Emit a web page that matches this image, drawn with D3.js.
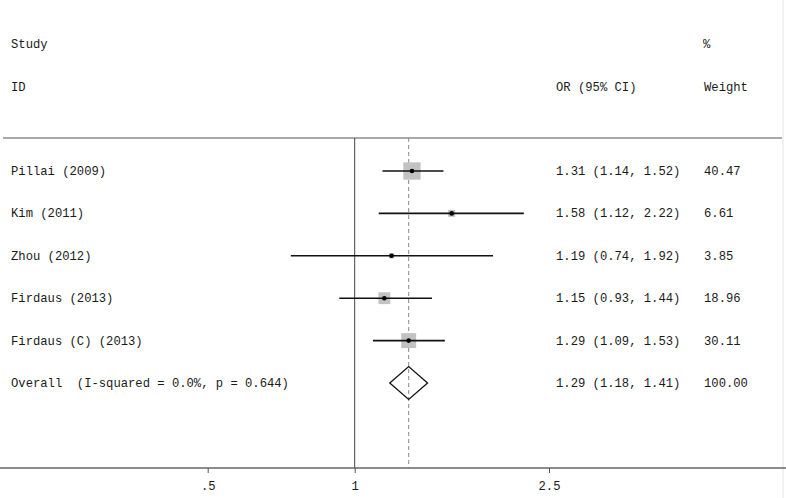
<!DOCTYPE html>
<html>
<head>
<meta charset="utf-8">
<script src="https://cdn.jsdelivr.net/npm/d3@7"></script>
<style>
	body { margin: 0; background: #fff; }
	text { font-family: 'Liberation Mono', 'DejaVu Sans Mono', monospace; font-size: 12.2px; fill: #1a1a1a; }
</style>
</head>
<body>
<svg id="chart"></svg>
<script>
// study rows
const studies = ['Pillai (2009)', 'Kim (2011)', 'Zhou (2012)', 'Firdaus (2013)', 'Firdaus (C) (2013)'];
const or_vals = [1.31, 1.58, 1.19, 1.15, 1.29];
const ci_low = [1.14, 1.12, 0.74, 0.93, 1.09];
const ci_high = [1.52, 2.22, 1.92, 1.44, 1.53];
const weights = [40.47, 6.61, 3.85, 18.96, 30.11];

// pooled estimate
const overall_label = 'Overall  (I-squared = 0.0%, p = 0.644)';
const overall = [1.29, 1.18, 1.41, 100.00];

const tick_vals = [0.5, 1, 2.5];
const tick_labels = ['.5', '1', '2.5'];

let outer_width = 786
let outer_height = 498

const fmt = (v)=> v.toFixed(2)

const svg = d3.select('#chart')
	.attr('width', outer_width)
	.attr('height', outer_height)

// log scale for odds ratio
const xScale = d3.scaleLog()
	.domain([0.5, 2.5])
	.range([207.7, 549])

const yScale = d3.scaleLinear()
	.domain([0, 5])
	.range([171, 383])

const sizeScale = d3.scaleSqrt()
	.domain([0, 40.47])
	.range([0, 17.3])

const top_line = 138
const axis_y = 468

// headers
svg.append('text').attr('x', 11).attr('y', 48).text('Study')
svg.append('text').attr('x', 11).attr('y', 91).text('ID')
svg.append('text').attr('x', 703).attr('y', 48).text('%')
svg.append('text').attr('x', 556).attr('y', 91).text('OR (95% CI)')
svg.append('text').attr('x', 704).attr('y', 91).text('Weight')

// horizontal rule under header
svg.append('line')
	.attr('x1', 3).attr('x2', 782)
	.attr('y1', top_line).attr('y2', top_line)
	.attr('stroke', '#555').attr('stroke-width', 1.2)

// faint right border
svg.append('line')
	.attr('x1', 783).attr('x2', 783)
	.attr('y1', 0).attr('y2', outer_height)
	.attr('stroke', '#e4e4e4').attr('stroke-width', 1)

// null line
svg.append('line')
	.attr('x1', xScale(1)).attr('x2', xScale(1))
	.attr('y1', top_line).attr('y2', axis_y)
	.attr('stroke', '#444').attr('stroke-width', 1)

// overall dashed line
svg.append('line')
	.attr('x1', xScale(overall[0])).attr('x2', xScale(overall[0]))
	.attr('y1', top_line).attr('y2', axis_y)
	.attr('stroke', '#888').attr('stroke-width', 1)
	.attr('stroke-dasharray', '4,3')

const rows = studies.map((s, i)=>({
	name: s, or: or_vals[i], lo: ci_low[i], hi: ci_high[i], w: weights[i], i: i
}))

const chart = svg.append('g')

// weight boxes
chart.selectAll('.box')
	.data(rows)
	.enter()
	.append('rect')
	.attr('fill', '#c2c2c2')
	.attr('x', d => xScale(d.or) - sizeScale(d.w) / 2)
	.attr('y', d => yScale(d.i) - sizeScale(d.w) / 2)
	.attr('width', d => sizeScale(d.w))
	.attr('height', d => sizeScale(d.w))

// CI lines
chart.selectAll('.ci')
	.data(rows)
	.enter()
	.append('line')
	.attr('x1', d => xScale(d.lo))
	.attr('x2', d => xScale(d.hi))
	.attr('y1', d => yScale(d.i))
	.attr('y2', d => yScale(d.i))
	.attr('stroke', '#111').attr('stroke-width', 1.6)

// point estimates
chart.selectAll('.dot')
	.data(rows)
	.enter()
	.append('circle')
	.attr('cx', d => xScale(d.or))
	.attr('cy', d => yScale(d.i))
	.attr('r', 2.3)
	.attr('fill', '#000')

// labels
chart.selectAll('.name')
	.data(rows)
	.enter()
	.append('text')
	.attr('x', 11)
	.attr('y', d => yScale(d.i) + 4)
	.text(d => d.name)

chart.selectAll('.est')
	.data(rows)
	.enter()
	.append('text')
	.attr('x', 556)
	.attr('y', d => yScale(d.i) + 4)
	.text(d => `${fmt(d.or)} (${fmt(d.lo)}, ${fmt(d.hi)})`)

chart.selectAll('.wt')
	.data(rows)
	.enter()
	.append('text')
	.attr('x', 704)
	.attr('y', d => yScale(d.i) + 4)
	.text(d => fmt(d.w))

// overall row
const oy = yScale(5)
const half_h = 16.5
svg.append('path')
	.attr('d', `M${xScale(overall[1])},${oy} L${xScale(overall[0])},${oy - half_h} L${xScale(overall[2])},${oy} L${xScale(overall[0])},${oy + half_h} Z`)
	.attr('fill', 'none')
	.attr('stroke', '#111').attr('stroke-width', 1.3)

svg.append('text').attr('x', 11).attr('y', oy + 4).attr('xml:space', 'preserve').style('white-space', 'pre').text(overall_label)
svg.append('text').attr('x', 556).attr('y', oy + 4).text(`${fmt(overall[0])} (${fmt(overall[1])}, ${fmt(overall[2])})`)
svg.append('text').attr('x', 704).attr('y', oy + 4).text(fmt(overall[3]))

// x axis
svg.append('line')
	.attr('x1', 0).attr('x2', outer_width)
	.attr('y1', axis_y).attr('y2', axis_y)
	.attr('stroke', '#666').attr('stroke-width', 1.3)

const axisX = svg.append('g')
	.attr('transform', `translate(0,${axis_y})`)
	.call(d3.axisBottom(xScale).tickValues(tick_vals).tickSize(5).tickFormat((d, i) => tick_labels[i]))

axisX.select('.domain').remove()
axisX.selectAll('line').attr('stroke', '#555')
axisX.selectAll('text')
	.attr('font-family', null)
	.attr('font-size', null)
	.attr('fill', null)
	.attr('dy', null)
	.attr('y', 22)
</script>
</body>
</html>
